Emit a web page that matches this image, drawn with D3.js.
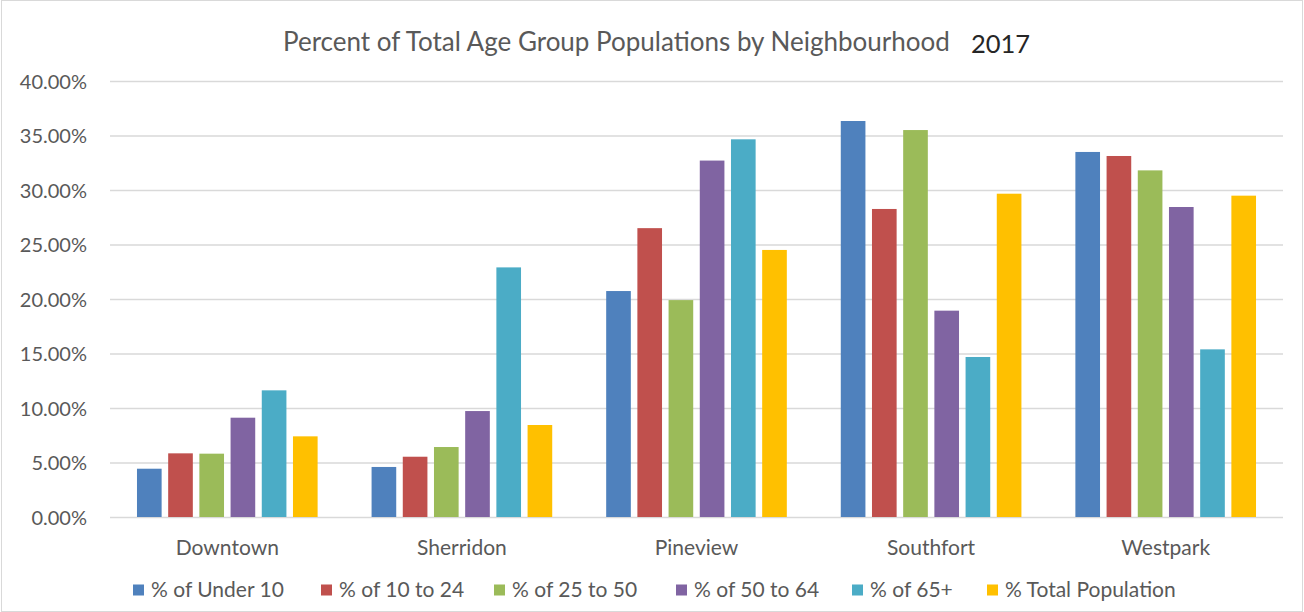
<!DOCTYPE html>
<html>
<head>
<meta charset="utf-8">
<script src="https://cdn.jsdelivr.net/npm/d3@7"></script>
<style>
  html, body { margin: 0; padding: 0; background: #fff; }
  svg { display: block; }
  text { font-family: "Lato", "Open Sans", sans-serif; }
</style>
</head>
<body>
<svg id="chart" width="1304" height="612"></svg>
<script>
const categories = ["Downtown", "Sherridon", "Pineview", "Southfort", "Westpark"];
const seriesNames = ["% of Under 10", "% of 10 to 24", "% of 25 to 50", "% of 50 to 64", "% of 65+", "% Total Population"];
const under10   = [4.43, 4.59, 20.73, 36.33, 33.49];
const age10to24 = [5.84, 5.53, 26.50, 28.26, 33.12];
const age25to50 = [5.81, 6.42, 19.90, 35.50, 31.80];
const age50to64 = [9.11, 9.72, 32.70, 18.93, 28.44];
const age65plus = [11.62, 22.90, 34.65, 14.68, 15.38];
const totalPop  = [7.40, 8.44, 24.50, 29.66, 29.48];
const yTicks = [0, 5, 10, 15, 20, 25, 30, 35, 40];
const colors = ["#4F81BD", "#C0504D", "#9BBB59", "#8064A2", "#4BACC6", "#FFC000"];
const titleText = "Percent of Total Age Group Populations by Neighbourhood";
const yearText = "2017";

const seriesValues = [under10, age10to24, age25to50, age50to64, age65plus, totalPop];

const svg = d3.select("#chart");
const W = 1304, H = 612;
const m = { left: 110, right: 21, top: 81, bottom: 95 };

// chart frame
svg.append("rect").attr("x", 1.5).attr("y", 0.5).attr("width", W - 3).attr("height", H - 1)
  .attr("fill", "#fff").attr("stroke", "#d9d9d9").attr("stroke-width", 1);

const x0 = d3.scaleBand().domain(categories).range([m.left, W - m.right])
  .paddingInner(0.23).paddingOuter(0.115);
const x1 = d3.scaleBand().domain(seriesNames).range([0, x0.bandwidth()])
  .paddingInner(0.21).paddingOuter(0);
const y = d3.scaleLinear().domain([0, 40]).range([H - m.bottom, m.top]);

// gridlines via axis
const yAxis = d3.axisLeft(y).tickValues(yTicks)
  .tickSize(-(W - m.right - m.left))
  .tickFormat(d => d.toFixed(2) + "%");
const gy = svg.append("g").attr("transform", `translate(${m.left},0)`).call(yAxis);
gy.select(".domain").remove();
gy.selectAll(".tick line").attr("stroke", "#d9d9d9").attr("stroke-width", 1.3);
gy.selectAll(".tick text").attr("x", -23).attr("fill", "#595959")
  .style("font-size", "20px").attr("dy", "0.35em");

// bars
const groups = svg.append("g").selectAll("g").data(categories).join("g")
  .attr("transform", d => `translate(${x0(d)},0)`);
groups.selectAll("rect")
  .data((c, ci) => seriesNames.map((s, si) => ({ s, si, v: seriesValues[si][ci] })))
  .join("rect")
  .attr("x", d => x1(d.s))
  .attr("width", x1.bandwidth())
  .attr("y", d => y(d.v))
  .attr("height", d => y(0) - y(d.v))
  .attr("fill", d => colors[d.si]);

// x axis labels
const xAxis = d3.axisBottom(x0).tickSize(0).tickPadding(0);
const gx = svg.append("g").attr("transform", `translate(0,${y(0)})`).call(xAxis);
gx.select(".domain").remove();
gx.selectAll(".tick text").attr("y", 0).attr("dy", "38px").attr("fill", "#595959")
  .style("font-size", "21px");

// title
svg.append("text").attr("x", 283).attr("y", 51).attr("fill", "#595959")
  .style("font-size", "26px").text(titleText);
svg.append("text").attr("x", 971).attr("y", 53).attr("fill", "#262626")
  .style("font-size", "25.5px").text(yearText);

// legend
const legendX = [133, 321, 494, 676, 852, 987];
const lg = svg.append("g").selectAll("g").data(seriesNames).join("g")
  .attr("transform", (d, i) => `translate(${legendX[i]},590)`);
lg.append("rect").attr("x", 0).attr("y", -5.5).attr("width", 11).attr("height", 11)
  .attr("fill", (d, i) => colors[i]);
lg.append("text").attr("x", 18).attr("y", 0).attr("dy", "0.35em").attr("fill", "#595959")
  .style("font-size", "21px").text(d => d);
</script>
</body>
</html>
